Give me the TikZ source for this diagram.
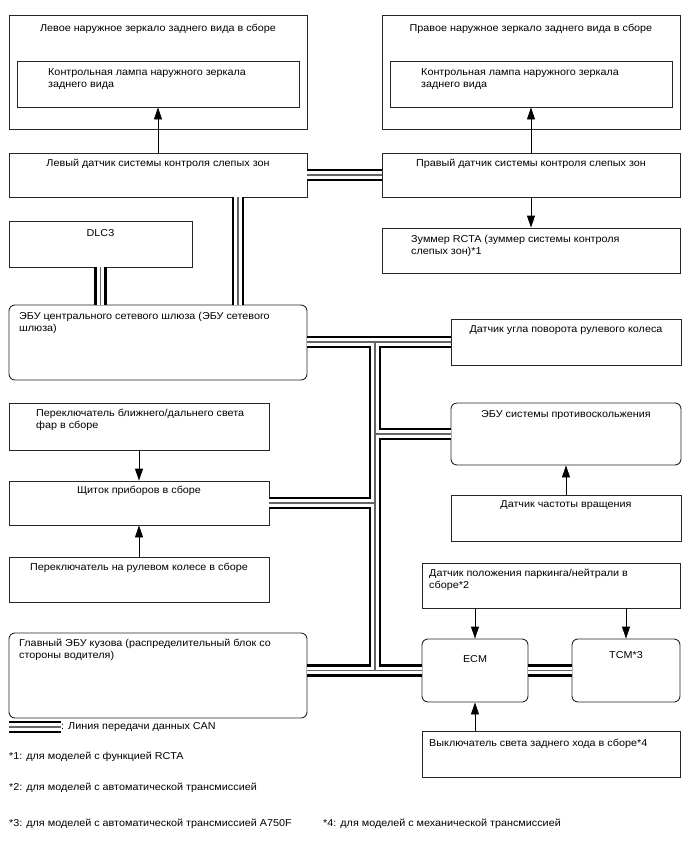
\documentclass[tikz,border=0pt]{standalone}
\usepackage{fontspec}
\setmainfont[FakeStretch=1.08]{Liberation Sans}
\usetikzlibrary{positioning,arrows.meta}
\tikzset{
  box/.style={draw=black!85,line width=0.9pt,inner sep=0pt},
  rbox/.style={box,rounded corners=6pt},
  lbl/.style={inner sep=0pt,align=left},
  arr/.style={line width=0.9pt,-{Triangle[length=12pt,width=8pt]}}
}
\begin{document}
\begin{tikzpicture}[x=1pt,y=-1pt, every node/.style={font=\fontsize{10}{12}\selectfont}]
  \useasboundingbox (0,0) rectangle (688,852);
  % boxes
  \node[box,minimum width=298,minimum height=114] (lmir) at (158,72) {};
  \node[box,minimum width=282,minimum height=46] (llamp) at (158,84) {};
  \node[box,minimum width=298,minimum height=114] (rmir) at (531,72) {};
  \node[box,minimum width=282,minimum height=46] (rlamp) at (531,84) {};
  \node[box,minimum width=298,minimum height=44] (lbsm) at (158,175) {};
  \node[box,minimum width=298,minimum height=44] (rbsm) at (531,175) {};
  \node[box,minimum width=298,minimum height=45] (buzz) at (531,250.5) {};
  \node[box,minimum width=183,minimum height=46] (dlc) at (100.5,244) {};
  \node[rbox,minimum width=298,minimum height=75] (gw) at (158,342.5) {};
  \node[box,minimum width=230,minimum height=46] (steer) at (566,342) {};
  \node[rbox,minimum width=230,minimum height=62] (skid) at (566,434) {};
  \node[box,minimum width=230,minimum height=46] (speed) at (566,518) {};
  \node[box,minimum width=260,minimum height=47] (head) at (139,426.5) {};
  \node[box,minimum width=260,minimum height=44] (comb) at (139,503) {};
  \node[box,minimum width=260,minimum height=45] (pad) at (139,579.5) {};
  \node[rbox,minimum width=298,minimum height=85] (body) at (158,675.5) {};
  \node[box,minimum width=258,minimum height=45] (pn) at (551,585.5) {};
  \node[rbox,minimum width=106,minimum height=63] (ecm) at (475,670.5) {};
  \node[rbox,minimum width=108,minimum height=63] (tcm) at (626,670.5) {};
  \node[box,minimum width=258,minimum height=46] (rev) at (551,754) {};
  % texts
  \node[lbl,below=9pt of lmir.north] (lmirT) {Левое наружное зеркало заднего вида в сборе};
  \node[lbl,anchor=north west] (llampT) at (48,68) {Контрольная лампа наружного зеркала\\заднего вида};
  \node[lbl,below=9pt of rmir.north] (rmirT) {Правое наружное зеркало заднего вида в сборе};
  \node[lbl,anchor=north west] (rlampT) at (421,68) {Контрольная лампа наружного зеркала\\заднего вида};
  \node[lbl,below=6pt of lbsm.north] (lbsmT) {Левый датчик системы контроля слепых зон};
  \node[lbl,below=6pt of rbsm.north] (rbsmT) {Правый датчик системы контроля слепых зон};
  \node[lbl,anchor=north west] (buzzT) at (411,235) {Зуммер RCTA (зуммер системы контроля\\слепых зон)*1};
  \node[lbl,below=9pt of dlc.north] (dlcT) {DLC3};
  \node[lbl,anchor=north west] (gwT) at (19,312) {ЭБУ центрального сетевого шлюза (ЭБУ сетевого\\шлюза)};
  \node[lbl,below=7pt of steer.north] (steerT) {Датчик угла поворота рулевого колеса};
  \node[lbl,below=8pt of skid.north] (skidT) {ЭБУ системы противоскольжения};
  \node[lbl,below=6pt of speed.north] (speedT) {Датчик частоты вращения};
  \node[lbl,anchor=north west] (headT) at (36,409) {Переключатель ближнего/дальнего света\\фар в сборе};
  \node[lbl,below=5pt of comb.north] (combT) {Щиток приборов в сборе};
  \node[lbl,below=6pt of pad.north] (padT) {Переключатель на рулевом колесе в сборе};
  \node[lbl,anchor=north west] (bodyT) at (19,639) {Главный ЭБУ кузова (распределительный блок со\\стороны водителя)};
  \node[lbl,anchor=north west] (pnT) at (429,569) {Датчик положения паркинга/нейтрали в\\сборе*2};
  \node[lbl,below=17pt of ecm.north] (ecmT) {ECM};
  \node[lbl,below=13pt of tcm.north] (tcmT) {TCM*3};
  \node[lbl,anchor=north west] (revT) at (429,739) {Выключатель света заднего хода в сборе*4};
  % arrows
  \draw[arr] (lbsm.north) -- (llamp.south);
  \draw[arr] (rbsm.north) -- (rlamp.south);
  \draw[arr] (rbsm.south) -- (buzz.north);
  \draw[arr] (head.south) -- (comb.north);
  \draw[arr] (pad.north) -- (comb.south);
  \draw[arr] (speed.north) -- (skid.south);
  \draw[arr] (pn.south -| ecm) -- (ecm.north);
  \draw[arr] (pn.south -| tcm) -- (tcm.north);
  \draw[arr] (rev.north -| ecm) -- (ecm.south);
  % CAN bus
  \coordinate (lbsmBus) at ([xshift=80pt]lbsm.south);
  \coordinate (jt) at (375,342);
  \coordinate (jb) at (375,670.5);
  \coordinate (lg1) at (9,727);
  \coordinate (lg2) at (61,727);
  \foreach \w/\c in {12.5pt/black, 7.5pt/white, 1.2pt/black!60} {
    \draw[line width=\w,draw=\c] (lbsm.east) -- (rbsm.west);
    \draw[line width=\w,draw=\c] (lbsmBus) -- (lbsmBus |- gw.north);
    \draw[line width=\w,draw=\c] (dlc.south) -- (dlc.south |- gw.north);
    \draw[line width=\w,draw=\c] (gw.east |- jt) -- (steer.west |- jt);
    \draw[line width=\w,draw=\c] (jt) -- (jb);
    \draw[line width=\w,draw=\c] (jt |- skid.west) -- (skid.west);
    \draw[line width=\w,draw=\c] (comb.east) -- (comb.east -| jt);
    \draw[line width=\w,draw=\c] (body.east |- jb) -- (ecm.west);
    \draw[line width=\w,draw=\c] (ecm.east) -- (tcm.west);
    \draw[line width=\w,draw=\c] (lg1) -- (lg2);
  }
  % legend and notes
  \node[lbl,anchor=west] (lgT) at (lg2) {: Линия передачи данных CAN};
  \node[lbl,anchor=west] (n1) at (9,757) {*1: для моделей с функцией RCTA};
  \node[lbl,anchor=west] (n2) at (9,788) {*2: для моделей с автоматической трансмиссией};
  \node[lbl,anchor=west] (n3) at (9,824) {*3: для моделей с автоматической трансмиссией A750F};
  \node[lbl,anchor=west] (n4) at (323,824) {*4: для моделей с механической трансмиссией};
\end{tikzpicture}
\end{document}
